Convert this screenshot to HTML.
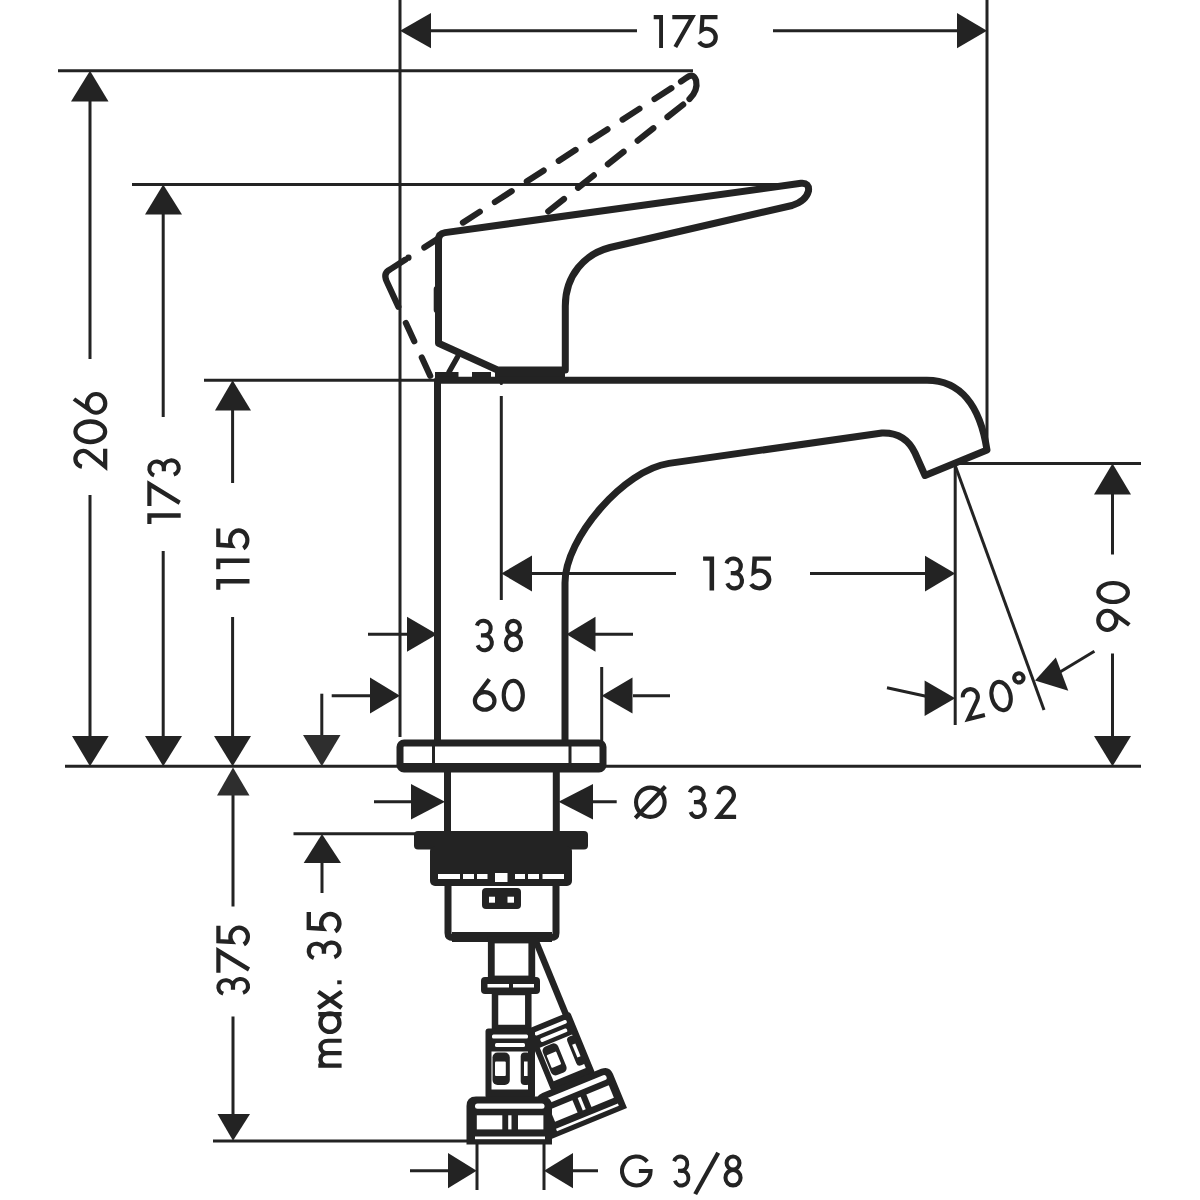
<!DOCTYPE html>
<html><head><meta charset="utf-8"><title>drawing</title>
<style>
html,body{margin:0;padding:0;background:#fff;width:1200px;height:1200px;overflow:hidden;}
svg{display:block;}
text{font-family:"Liberation Sans",sans-serif;}
</style></head><body>
<svg width="1200" height="1200" viewBox="0 0 1200 1200">
<rect width="1200" height="1200" fill="#fff"/>
<path d="M58 70.8H693" stroke="#232323" stroke-width="3" fill="none" />
<path d="M132 184.4H800" stroke="#232323" stroke-width="3" fill="none" />
<path d="M204 380.3H437" stroke="#232323" stroke-width="3" fill="none" />
<path d="M400 0V737" stroke="#232323" stroke-width="3" fill="none" />
<path d="M987 0V452" stroke="#232323" stroke-width="3" fill="none" />
<path d="M65 766.3H1141" stroke="#232323" stroke-width="3" fill="none" />
<path d="M955 463.4H1141" stroke="#232323" stroke-width="3" fill="none" />
<path d="M501.3 396V600" stroke="#232323" stroke-width="3" fill="none" />
<circle cx="501.3" cy="383.5" r="1.6" fill="#232323"/>
<path d="M601.7 667V742" stroke="#232323" stroke-width="3" fill="none" />
<path d="M955.2 463V725" stroke="#232323" stroke-width="3" fill="none" />
<path d="M955 465L1044 710" stroke="#232323" stroke-width="3" fill="none" />
<path d="M293.5 833.8H416" stroke="#232323" stroke-width="3" fill="none" />
<path d="M213 1141H468" stroke="#232323" stroke-width="3" fill="none" />
<path d="M477 1143V1190M544 1143V1190" stroke="#232323" stroke-width="3" fill="none" />
<path d="M431 30.7H637M773 30.7H957" stroke="#232323" stroke-width="3" fill="none" />
<path d="M400 30.7L431 13L431 48.3Z" fill="#232323"/>
<path d="M987 30.7L957 13L957 48.3Z" fill="#232323"/>
<g transform="translate(653.7,15) scale(0.3300)" fill="none" stroke="#232323" stroke-width="12.5" stroke-linejoin="miter" stroke-miterlimit="3"><path transform="translate(0.0,0) scale(0.940,1)" d="M0 6.25H23.75V100"/><path transform="translate(56.4,0) scale(1.013,1)" d="M0 6.25H60L9 97"/><path transform="translate(131.2,0) scale(1.043,1)" d="M59.6 6.25H15.8L13.5 46.4A26 26 0 1 1 6.3 81.4"/></g>
<path d="M90 101V359M90 495V736" stroke="#232323" stroke-width="3" fill="none" />
<path d="M90 70.8L71 101.5L108.5 101.5Z" fill="#232323"/>
<path d="M90 766.3L72 736L108.7 736Z" fill="#232323"/>
<g transform="translate(73.3,469.3) rotate(-90) scale(0.3400)" fill="none" stroke="#232323" stroke-width="12.5" stroke-linejoin="miter" stroke-miterlimit="3"><path transform="translate(0.0,0) scale(0.993,1)" d="M8.1 25.5A23.25 23.25 0 1 1 50 42.8L8 93.75H61"/><path transform="translate(74.0,0) scale(1.043,1)" d="M6.25 50A28.75 43.75 0 1 0 63.75 50A28.75 43.75 0 1 0 6.25 50Z"/><path transform="translate(160.5,0) scale(0.924,1)" d="M50 2L10.24 53.9M6.25 67.25A29.75 26.75 0 1 0 65.75 67.25A29.75 26.75 0 1 0 6.25 67.25Z"/></g>
<path d="M163.2 214V417M163.2 551V736" stroke="#232323" stroke-width="3" fill="none" />
<path d="M163.2 184.4L145 214.5L182 214.5Z" fill="#232323"/>
<path d="M163.2 766.3L145 736L182 736Z" fill="#232323"/>
<g transform="translate(147.3,524) rotate(-90) scale(0.3340)" fill="none" stroke="#232323" stroke-width="12.5" stroke-linejoin="miter" stroke-miterlimit="3"><path transform="translate(0.0,0) scale(1.067,1)" d="M0 6.25H23.75V100"/><path transform="translate(54.0,0) scale(1.086,1)" d="M0 6.25H60L9 97"/><path transform="translate(136.0,0) scale(0.984,1)" d="M9.6 20.6A21.75 21.75 0 1 1 30 49.75M22 49.5H33A22.25 22.25 0 1 1 12.1 79.1"/></g>
<path d="M232.6 410V483M232.6 617V736" stroke="#232323" stroke-width="3" fill="none" />
<path d="M232.6 380.3L215 410.5L251 410.5Z" fill="#232323"/>
<path d="M232.6 766.3L214 736L251 736Z" fill="#232323"/>
<g transform="translate(216.2,589.7) rotate(-90) scale(0.3330)" fill="none" stroke="#232323" stroke-width="12.5" stroke-linejoin="miter" stroke-miterlimit="3"><path transform="translate(0.0,0) scale(1.067,1)" d="M0 6.25H23.75V100"/><path transform="translate(61.5,0) scale(1.070,1)" d="M0 6.25H23.75V100"/><path transform="translate(117.0,0) scale(1.115,1)" d="M59.6 6.25H15.8L13.5 46.4A26 26 0 1 1 6.3 81.4"/></g>
<path d="M233 795V906.5M233 1016.5V1114.5" stroke="#232323" stroke-width="3" fill="none" />
<path d="M233 767.5L217 795.5L249.5 795.5Z" fill="#2e2e2e"/>
<path d="M233 1140.8L217.5 1114L250 1114Z" fill="#232323"/>
<g transform="translate(216.3,996.8) rotate(-90) scale(0.3370)" fill="none" stroke="#232323" stroke-width="12.5" stroke-linejoin="miter" stroke-miterlimit="3"><path transform="translate(0.0,0) scale(0.951,1)" d="M9.6 20.6A21.75 21.75 0 1 1 30 49.75M22 49.5H33A22.25 22.25 0 1 1 12.1 79.1"/><path transform="translate(71.0,0) scale(1.086,1)" d="M0 6.25H60L9 97"/><path transform="translate(149.0,0) scale(1.033,1)" d="M59.6 6.25H15.8L13.5 46.4A26 26 0 1 1 6.3 81.4"/></g>
<path d="M321.8 693.7V735" stroke="#232323" stroke-width="3" fill="none" />
<path d="M321.8 766.3L303 735L340.5 735Z" fill="#2e2e2e"/>
<path d="M322 834L303.7 863L341 863Z" fill="#232323"/>
<path d="M322 862V893" stroke="#232323" stroke-width="3" fill="none" />
<g transform="translate(306.6,1067.7) rotate(-90) scale(0.3500)" fill="none" stroke="#232323" stroke-width="12.5" stroke-linejoin="miter" stroke-miterlimit="3"><path transform="translate(0.0,0) scale(0.943,1)" d="M6.25 100V33.4M6.25 62C6.25 48 14 39.65 25.1 39.65C36.2 39.65 44 48 44 62V100M44 62C44 48 51.8 39.65 62.9 39.65C74 39.65 81.75 48 81.75 62V100"/><path transform="translate(96.0,0) scale(0.984,1)" d="M6.25 66.7A27.05 27.05 0 1 0 60.35 66.7A27.05 27.05 0 1 0 6.25 66.7ZM57.75 33.4V100"/><path transform="translate(167.0,0)" d="M4 33.4L50 100M50 33.4L4 100"/><path transform="translate(237.0,0)" d="M1.5 93.75H12.5"/><path transform="translate(304.0,0) scale(0.967,1)" d="M9.6 20.6A21.75 21.75 0 1 1 30 49.75M22 49.5H33A22.25 22.25 0 1 1 12.1 79.1"/><path transform="translate(383.0,0) scale(1.033,1)" d="M59.6 6.25H15.8L13.5 46.4A26 26 0 1 1 6.3 81.4"/></g>
<path d="M532 573.5H676M810 573.5H925" stroke="#232323" stroke-width="3" fill="none" />
<path d="M501.3 573.5L532 555.5L532 591.5Z" fill="#232323"/>
<path d="M955.2 573.5L925 555.8L925 591.6Z" fill="#232323"/>
<g transform="translate(703.1,556.4) scale(0.3400)" fill="none" stroke="#232323" stroke-width="12.5" stroke-linejoin="miter" stroke-miterlimit="3"><path transform="translate(0.0,0) scale(1.080,1)" d="M0 6.25H23.75V100"/><path transform="translate(59.4,0) scale(0.993,1)" d="M9.6 20.6A21.75 21.75 0 1 1 30 49.75M22 49.5H33A22.25 22.25 0 1 1 12.1 79.1"/><path transform="translate(134.5,0) scale(1.093,1)" d="M59.6 6.25H15.8L13.5 46.4A26 26 0 1 1 6.3 81.4"/></g>
<path d="M368 634.2H407M595 634.2H633" stroke="#232323" stroke-width="3" fill="none" />
<path d="M437 634.2L407 616.8L407 651.8Z" fill="#232323"/>
<path d="M566.5 634.2L595.5 616.8L595.5 651.8Z" fill="#232323"/>
<g transform="translate(473.7,618.7) scale(0.3350)" fill="none" stroke="#232323" stroke-width="12.5" stroke-linejoin="miter" stroke-miterlimit="3"><path transform="translate(0.0,0) scale(0.979,1)" d="M9.6 20.6A21.75 21.75 0 1 1 30 49.75M22 49.5H33A22.25 22.25 0 1 1 12.1 79.1"/><path transform="translate(89.6,0) scale(0.972,1)" d="M10.25 26A19.75 19.75 0 1 0 49.75 26A19.75 19.75 0 1 0 10.25 26ZM6.75 70.5A23.25 23.25 0 1 0 53.25 70.5A23.25 23.25 0 1 0 6.75 70.5Z"/></g>
<path d="M331.7 695.7H370M633 695.7H670" stroke="#232323" stroke-width="3" fill="none" />
<path d="M400 695.7L370 677.5L370 713.5Z" fill="#232323"/>
<path d="M601.7 695.7L632.5 677.5L632.5 713.5Z" fill="#232323"/>
<g transform="translate(472.8,678.7) scale(0.3300)" fill="none" stroke="#232323" stroke-width="12.5" stroke-linejoin="miter" stroke-miterlimit="3"><path transform="translate(0.0,0)" d="M50 2L10.24 53.9M6.25 67.25A29.75 26.75 0 1 0 65.75 67.25A29.75 26.75 0 1 0 6.25 67.25Z"/><path transform="translate(87.4,0) scale(1.007,1)" d="M6.25 50A28.75 43.75 0 1 0 63.75 50A28.75 43.75 0 1 0 6.25 50Z"/></g>
<path d="M374 801.7H411M593 801.7H616.7" stroke="#232323" stroke-width="3" fill="none" />
<path d="M445 801.7L411 784L411 819.5Z" fill="#232323"/>
<path d="M558.5 801.7L593 784L593 819.5Z" fill="#232323"/>
<g transform="translate(634,785.5) scale(0.3350)" fill="none" stroke="#232323" stroke-width="12.5" stroke-linejoin="miter" stroke-miterlimit="3"><path transform="translate(0.0,0) scale(0.976,1)" d="M6.25 50A43.75 43.75 0 1 0 93.75 50A43.75 43.75 0 1 0 6.25 50ZM4 97L96 3"/><path transform="translate(157.3,0) scale(0.979,1)" d="M9.6 20.6A21.75 21.75 0 1 1 30 49.75M22 49.5H33A22.25 22.25 0 1 1 12.1 79.1"/><path transform="translate(243.8,0)" d="M8.1 25.5A23.25 23.25 0 1 1 50 42.8L8 93.75H61"/></g>
<path d="M410 1170.7H448M573 1170.7H598" stroke="#232323" stroke-width="3" fill="none" />
<path d="M476.7 1170.7L448 1153L448 1188.3Z" fill="#232323"/>
<path d="M544 1170.7L573 1153L573 1188.3Z" fill="#232323"/>
<g transform="translate(620,1154.4) scale(0.3310)" fill="none" stroke="#232323" stroke-width="12.5" stroke-linejoin="miter" stroke-miterlimit="3"><path transform="translate(0.0,0) scale(0.985,1)" d="M83.5 21.9A43.75 43.75 0 1 0 93.75 50H58"/><path transform="translate(154.5,0) scale(0.943,1)" d="M9.6 20.6A21.75 21.75 0 1 1 30 49.75M22 49.5H33A22.25 22.25 0 1 1 12.1 79.1"/><path transform="translate(221.0,0) scale(1.038,1)" d="M73 -5L6 120"/><path transform="translate(312.0,0) scale(0.983,1)" d="M10.25 26A19.75 19.75 0 1 0 49.75 26A19.75 19.75 0 1 0 10.25 26ZM6.75 70.5A23.25 23.25 0 1 0 53.25 70.5A23.25 23.25 0 1 0 6.75 70.5Z"/></g>
<path d="M1112.5 494V554.5M1112.5 653.5V736" stroke="#232323" stroke-width="3" fill="none" />
<path d="M1112.5 463.4L1094 494.5L1131 494.5Z" fill="#232323"/>
<path d="M1112.5 766.3L1094 736L1131 736Z" fill="#232323"/>
<g transform="translate(1096.25,631.9) rotate(-90) scale(0.3375)" fill="none" stroke="#232323" stroke-width="12.5" stroke-linejoin="miter" stroke-miterlimit="3"><path transform="translate(0.0,0) scale(0.953,1)" d="M22 98L61.76 46.1M65.75 32.75A29.75 26.75 0 1 0 6.25 32.75A29.75 26.75 0 1 0 65.75 32.75Z"/><path transform="translate(82.7,0) scale(0.973,1)" d="M6.25 50A28.75 43.75 0 1 0 63.75 50A28.75 43.75 0 1 0 6.25 50Z"/></g>
<path d="M887 687.7L926 696.2" stroke="#232323" stroke-width="3" fill="none" />
<path d="M955.2 698.2L924.6 680.5L924.6 716Z" fill="#232323"/>
<path d="M1094.4 651.2L1060 672" stroke="#232323" stroke-width="3" fill="none" />
<path d="M1035 680.4L1055.8 657.5L1068.3 690.8Z" fill="#232323"/>
<g transform="translate(966.2,721.8) rotate(-14) scale(0.33) translate(0,-100)" fill="none" stroke="#232323" stroke-width="12.5" stroke-linejoin="miter" stroke-miterlimit="3"><path transform="translate(0.0,0) scale(0.984,1)" d="M8.1 25.5A23.25 23.25 0 1 1 50 42.8L8 93.75H61"/><path transform="translate(87.0,0) scale(0.986,1)" d="M6.25 50A28.75 43.75 0 1 0 63.75 50A28.75 43.75 0 1 0 6.25 50Z"/><path transform="translate(167.0,-7.5)" d="M20 3A14 14 0 1 0 20 31A14 14 0 1 0 20 3Z"/></g>
<path d="M408.5 257.7L672 87.75" fill="none" stroke="#232323" stroke-width="6.2" stroke-linecap="round" stroke-linejoin="round" stroke-dasharray="0 18.9 20 25.9 20 18 20 18 20 18 20 18 20 18 20 18 20 200"/>
<path d="M681 81.5L686.1 78Q693.4 72.3 696.1 80.4Q698.2 90.5 689.5 99" fill="none" stroke="#232323" stroke-width="6.2" stroke-linecap="round" stroke-linejoin="round"/>
<path d="M685.5 102.75L541.3 216.9L500 250" fill="none" stroke="#232323" stroke-width="6.2" stroke-linecap="round" stroke-linejoin="round" stroke-dasharray="20 18" stroke-dashoffset="35"/>
<path d="M431 377.5L386.5 281Q383 273 390 269.5L408.5 257.7" fill="none" stroke="#232323" stroke-width="6.2" stroke-linecap="round" stroke-linejoin="round" stroke-dasharray="20 18 20 18 60 100" stroke-dashoffset="-2"/>
<path d="M436.8 289V310" fill="none" stroke="#232323" stroke-width="6.2" stroke-linecap="round" stroke-linejoin="round"/>
<path d="M449 372L457.5 357" stroke="#232323" stroke-width="5.5" fill="none" stroke-linecap="round"/>
<path d="M438.5 240 Q438.5 233.5 445 232.6 L801 183.3 Q809.5 182.5 808.5 191 Q806 201 792 205.5 L610 247.5 C585 254 565.3 275 565.3 306 V370 H497.5 L438.5 343.3 Z" fill="#fff" stroke="#232323" stroke-width="7" stroke-linejoin="round"/>
<rect x="495" y="370" width="70" height="11" fill="#232323"/>
<rect x="435" y="372" width="23.5" height="8" fill="#232323"/>
<rect x="472" y="372" width="19" height="8" fill="#232323"/>
<path d="M437.5 743 V380.2 H927 C960 380.2 980 405 987 450 L925 475.5 L915 453 C908 438 896 432.5 882 433 L668.9 463.4 C624.4 469.8 565 537.8 565 582.8 V743" fill="none" stroke="#232323" stroke-width="7" stroke-linejoin="round"/>
<rect x="400" y="743" width="203" height="26" rx="4" fill="#fff" stroke="#232323" stroke-width="7"/>
<rect x="400" y="763" width="203" height="8" fill="#232323"/>
<path d="M433.5 745V767M570 745V767" stroke="#232323" stroke-width="3" fill="none" />
<path d="M447.5 772V831M556.3 772V831" stroke="#232323" stroke-width="7" fill="none"/>
<rect x="414" y="831" width="174" height="18.5" rx="4" fill="#232323"/>
<rect x="430" y="846" width="142" height="40" rx="5" fill="#232323"/>
<rect x="438" y="874" width="22" height="5" fill="#fff"/>
<rect x="463" y="874" width="11" height="5" fill="#fff"/>
<rect x="477" y="874" width="10.5" height="5" fill="#fff"/>
<rect x="515" y="874" width="10" height="5" fill="#fff"/>
<rect x="528" y="874" width="11" height="5" fill="#fff"/>
<rect x="542.5" y="874" width="21.5" height="5" fill="#fff"/>
<rect x="495" y="873" width="12.5" height="9" fill="#fff"/>
<path d="M448 884V933 Q448 937.5 453 937.5 H551 Q556 937.5 556 933 V884" stroke="#232323" stroke-width="7" fill="none"/>
<rect x="452" y="932" width="100" height="10" fill="#232323"/>
<rect x="482" y="888" width="39" height="21" rx="4" fill="#232323"/>
<rect x="489" y="896.7" width="6" height="6" fill="#fff"/>
<rect x="507.5" y="896.7" width="6.5" height="6" fill="#fff"/>
<g transform="translate(589,1123.6) rotate(-22.3) scale(0.955) translate(-509,-1144.6)"><path d="M530 945V1030" stroke="#232323" stroke-width="6.8" fill="none"/>
<rect x="485.5" y="1028.5" width="49.5" height="70" rx="3" fill="#232323"/>
<rect x="492" y="1034.6" width="36" height="3.8" rx="1.5" fill="#fff"/>
<rect x="495" y="1043" width="30" height="4" rx="1.5" fill="#fff"/>
<rect x="491.5" y="1051.5" width="36.5" height="38" fill="#fff"/>
<rect x="492.5" y="1052.5" width="17.3" height="32.5" rx="5" fill="#232323"/>
<rect x="495" y="1061.5" width="10.8" height="14.5" rx="1" fill="#fff"/>
<rect x="520.7" y="1052.5" width="10" height="32.5" rx="4" fill="#232323"/>
<rect x="524" y="1061.5" width="3.6" height="14.5" fill="#fff"/>
<path d="M466.5 1144.6 V1106 Q466.5 1096.4 476 1096.4 H542.5 Q552 1096.4 552 1106 V1144.6 Z" fill="#232323"/>
<rect x="475" y="1103.4" width="69.5" height="5.4" rx="2.5" fill="#fff"/>
<rect x="476.8" y="1115.3" width="25.5" height="14.1" fill="#fff"/>
<rect x="518" y="1115.3" width="25.4" height="14.1" fill="#fff"/>
<rect x="508.2" y="1115.3" width="3.3" height="14.1" fill="#fff"/>
<rect x="475" y="1136.5" width="70" height="2.7" fill="#fff"/></g>
<g><rect x="491.3" y="940" width="40.5" height="39" fill="#fff" stroke="#232323" stroke-width="6.8"/>
<rect x="495" y="992" width="33.3" height="36" fill="#fff" stroke="#232323" stroke-width="6.5"/>
<rect x="481" y="977" width="59" height="17" rx="4" fill="#232323"/>
<rect x="487.5" y="984" width="21.5" height="3.5" fill="#fff"/>
<rect x="513" y="984" width="21" height="3.5" fill="#fff"/>
<rect x="485.5" y="1028.5" width="49.5" height="70" rx="3" fill="#232323"/>
<rect x="492" y="1034.6" width="36" height="3.8" rx="1.5" fill="#fff"/>
<rect x="495" y="1043" width="30" height="4" rx="1.5" fill="#fff"/>
<rect x="491.5" y="1051.5" width="36.5" height="38" fill="#fff"/>
<rect x="492.5" y="1052.5" width="17.3" height="32.5" rx="5" fill="#232323"/>
<rect x="495" y="1061.5" width="10.8" height="14.5" rx="1" fill="#fff"/>
<rect x="520.7" y="1052.5" width="10" height="32.5" rx="4" fill="#232323"/>
<rect x="524" y="1061.5" width="3.6" height="14.5" fill="#fff"/>
<path d="M466.5 1144.6 V1106 Q466.5 1096.4 476 1096.4 H542.5 Q552 1096.4 552 1106 V1144.6 Z" fill="#232323"/>
<rect x="475" y="1103.4" width="69.5" height="5.4" rx="2.5" fill="#fff"/>
<rect x="476.8" y="1115.3" width="25.5" height="14.1" fill="#fff"/>
<rect x="518" y="1115.3" width="25.4" height="14.1" fill="#fff"/>
<rect x="508.2" y="1115.3" width="3.3" height="14.1" fill="#fff"/>
<rect x="475" y="1136.5" width="70" height="2.7" fill="#fff"/></g>
</svg>
</body></html>
